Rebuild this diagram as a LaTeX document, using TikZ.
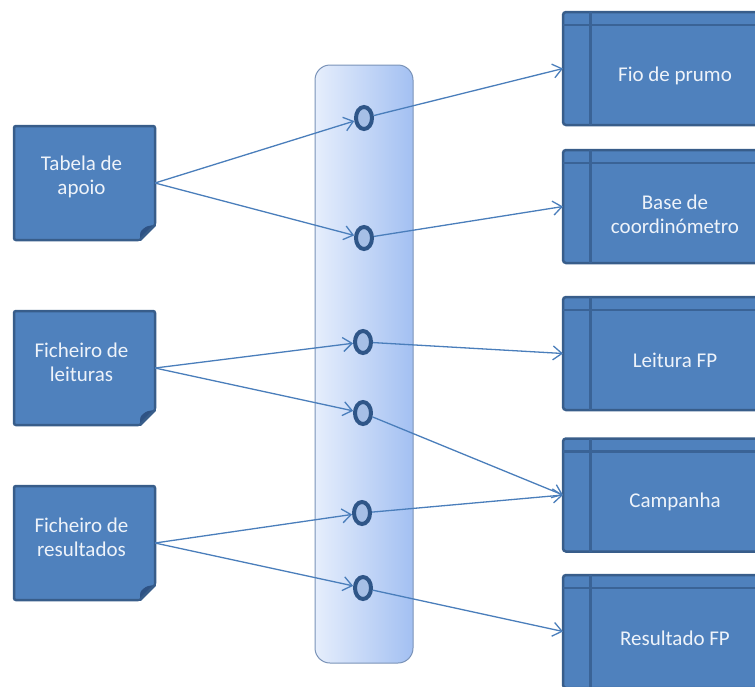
\documentclass[tikz,border=0pt]{standalone}
\usepackage{fontspec}
\setmainfont{Carlito}
\usetikzlibrary{shapes.geometric,arrows.meta}

\definecolor{boxfill}{HTML}{4F81BD}
\definecolor{boxline}{HTML}{385D8A}
\definecolor{boxinner}{HTML}{3A6396}
\definecolor{folddark}{HTML}{2E5284}
\definecolor{flowline}{HTML}{4A7EBB}
\definecolor{portfill}{HTML}{A6BFE6}
\definecolor{portline}{HTML}{2F5688}
\definecolor{barleft}{HTML}{E6EEFC}
\definecolor{barright}{HTML}{A3C0F2}
\definecolor{barline}{HTML}{7A93B8}
\definecolor{labeltext}{HTML}{EEF3FA}

\begin{document}
\begin{tikzpicture}[x=1pt,y=-1pt,
  docbox/.style={draw=boxline, fill=boxfill, line width=2.5pt, rounded corners=2pt,
    minimum width=141pt, minimum height=114pt, inner sep=0pt, outer sep=0pt},
  entbox/.style={draw=boxline, fill=boxfill, line width=2.5pt, rounded corners=3pt,
    minimum width=200pt, minimum height=113pt, inner sep=0pt, outer sep=0pt},
  boxtext/.style={text=labeltext, font=\fontsize{21}{24}\selectfont, align=center, inner sep=0pt},
  port/.style={ellipse, draw=portline, fill=portfill, line width=4pt,
    minimum width=16pt, minimum height=22pt, inner sep=0pt},
  busbar/.style={draw=barline, line width=1pt, rounded corners=15pt,
    left color=barleft, right color=barright,
    minimum width=98pt, minimum height=598pt, inner sep=0pt, outer sep=0pt},
  flow/.style={draw=flowline, line width=1.3pt,
    -{Straight Barb[length=9pt,width=14pt,line width=1.3pt]}},
]
\useasboundingbox (0,0) rectangle (755,686);

% central bus with its ports
\node[busbar] (bus) at (364,364) {};
\node[port] (c1) at (364,118) {};
\node[port] (c2) at (364,238) {};
\node[port] (c3) at (363,342) {};
\node[port] (c4) at (363,413) {};
\node[port] (c5) at (362,513) {};
\node[port] (c6) at (363,588) {};

% source documents
\node[docbox] (tab) at (84.5,183) {};
\node[docbox] (fl)  at (84.5,368) {};
\node[docbox] (fr)  at (84.5,543) {};
\foreach \n in {tab,fl,fr}{
  \fill[white] ([xshift=4pt,yshift=19pt]\n.south east) -- ([xshift=4pt,yshift=-4pt]\n.south east)
    -- ([xshift=-19pt,yshift=-4pt]\n.south east) -- cycle;
  \fill[folddark] ([yshift=15pt]\n.south east) -- ([xshift=-15pt]\n.south east)
    .. controls ([xshift=-15pt,yshift=8pt]\n.south east) .. ([xshift=-12pt,yshift=11pt]\n.south east)
    .. controls ([xshift=-8pt,yshift=14pt]\n.south east) .. ([yshift=15pt]\n.south east) -- cycle;
  \draw[boxline, line width=2.5pt, line cap=round] ([yshift=15pt]\n.south east) -- ([xshift=-15pt]\n.south east);
}
\node[boxtext] (tab-t) at ([xshift=-3pt,yshift=6pt]tab.center) {Tabela de\\apoio};
\node[boxtext] (fl-t)  at ([xshift=-3pt,yshift=6pt]fl.center)  {Ficheiro de\\leituras};
\node[boxtext] (fr-t)  at ([xshift=-3pt,yshift=6pt]fr.center)  {Ficheiro de\\resultados};

% target entities
\node[entbox] (fio)  at (663,68.5)  {};
\node[entbox] (base) at (663,206.5) {};
\node[entbox] (lfp)  at (663,353.5) {};
\node[entbox] (camp) at (663,495)   {};
\node[entbox] (rfp)  at (663,631.5) {};
\foreach \n in {fio,base,lfp,camp,rfp}{
  \draw[boxinner, line width=3pt] ([xshift=27pt]\n.north west) -- ([xshift=27pt]\n.south west);
  \draw[boxinner, line width=2.5pt] ([yshift=-13pt]\n.north west) -- ([yshift=-13pt]\n.north east);
}
\node[boxtext] (fio-t)  at ([xshift=12pt,yshift=-7pt]fio.center)  {Fio de prumo};
\node[boxtext] (base-t) at ([xshift=12pt,yshift=-8pt]base.center) {Base de\\coordinómetro};
\node[boxtext] (lfp-t)  at ([xshift=12pt,yshift=-7pt]lfp.center)  {Leitura FP};
\node[boxtext] (camp-t) at ([xshift=12pt,yshift=-7pt]camp.center) {Campanha};
\node[boxtext] (rfp-t)  at ([xshift=12pt,yshift=-7pt]rfp.center)  {Resultado FP};

% flows into the bus
\draw[flow] (tab.east) -- (c1);
\draw[flow] (tab.east) -- (c2);
\draw[flow] (fl.east) -- (c3);
\draw[flow] (fl.east) -- (c4);
\draw[flow] (fr.east) -- (c5);
\draw[flow] (fr.east) -- (c6);

% flows out of the bus
\draw[flow] (c1) -- (fio.west);
\draw[flow] (c2) -- (base.west);
\draw[flow] (c3) -- (lfp.west);
\draw[flow] (c4) -- (camp.west);
\draw[flow] (c5) -- (camp.west);
\draw[flow] (c6) -- (rfp.west);
\end{tikzpicture}
\end{document}
